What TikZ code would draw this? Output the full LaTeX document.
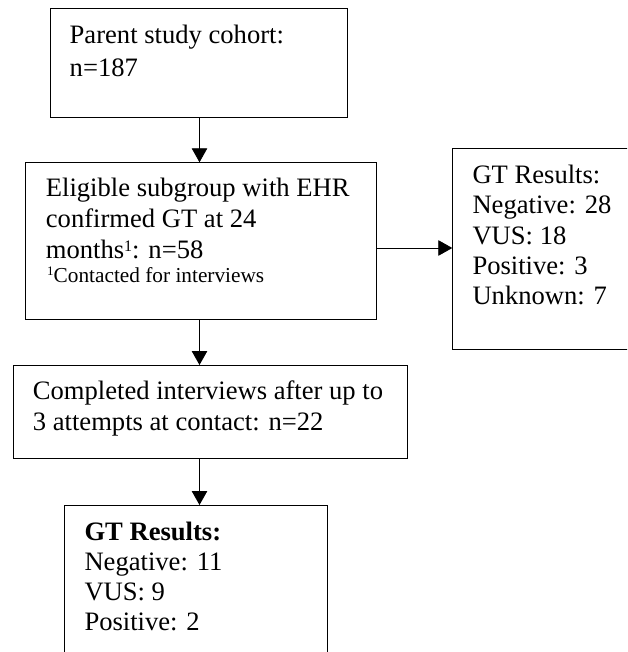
\documentclass[tikz,border=0pt]{standalone}
\usepackage{fontspec}
\setmainfont{Liberation Serif}
\usetikzlibrary{arrows.meta}
\newcommand\mysupnum[2]{\raisebox{#2}{\fontsize{#1}{#1}\selectfont 1}}
\begin{document}
\begin{tikzpicture}[x=1pt,y=-1pt,
  box/.style={draw=black, line width=0.85pt, inner sep=0pt, anchor=north west},
  txt/.style={anchor=base west, inner sep=0pt},
  arr/.style={line width=0.85pt, -{Triangle[length=14pt,width=15.5pt]}}]
\clip (0,0) rectangle (627,652);
% boxes
\node[box, minimum width=297.6pt, minimum height=108.4pt] (b1) at (49.7,8.3) {};
\node[box, minimum width=350.7pt, minimum height=157pt] (b2) at (25,162.3) {};
\node[box, minimum width=210pt, minimum height=201pt] (b3) at (452.3,148.3) {};
\node[box, minimum width=394pt, minimum height=92.5pt] (b4) at (12.7,365) {};
\node[box, minimum width=262.4pt, minimum height=180pt] (b5) at (64.3,505) {};
% texts
\node[txt] (t1) at (69.5,44) {\parbox[t]{280pt}{\fontsize{26.6}{33}\selectfont Parent study cohort:\\n=187}};
\node[txt] (t2) at (45.7,196.7) {\parbox[t]{330pt}{\fontsize{26.6}{30.7}\selectfont Eligible subgroup with EHR\\confirmed GT at 24\\months\mysupnum{16}{7pt}: n=58}};
\node[txt] (t2f) at (47,282) {\fontsize{21.3}{24}\selectfont\mysupnum{13}{6.5pt}Contacted for interviews};
\node[txt] (t3) at (472.3,183.3) {\parbox[t]{160pt}{\fontsize{26.6}{30.4}\selectfont GT Results:\\Negative: 28\\VUS: 18\\Positive: 3\\Unknown: 7}};
\node[txt] (t4) at (32.7,399.3) {\parbox[t]{380pt}{\fontsize{26.6}{30.7}\selectfont Completed interviews after up to\\3 attempts at contact: n=22}};
\node[txt] (t5) at (84.3,540) {\parbox[t]{240pt}{\fontsize{26.6}{30}\selectfont \textbf{GT Results:}\\Negative: 11\\VUS: 9\\Positive: 2}};
% connectors
\coordinate (ax) at (199.5,0);
\coordinate (ay) at (0,248);
\draw[arr] (b1.south -| ax) -- (b2.north -| ax);
\draw[arr] (b2.south -| ax) -- (b4.north -| ax);
\draw[arr] (b4.south -| ax) -- (b5.north -| ax);
\draw[arr] (b2.east |- ay) -- (b3.west |- ay);
\end{tikzpicture}
\end{document}
